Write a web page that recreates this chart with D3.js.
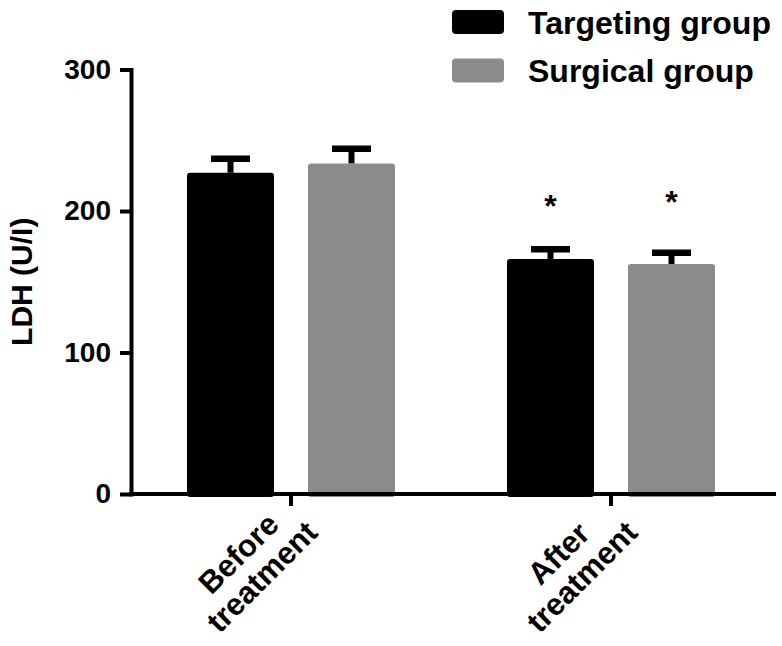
<!DOCTYPE html>
<html>
<head>
<meta charset="utf-8">
<script src="https://cdn.jsdelivr.net/npm/d3@7"></script>
<style>
  html, body { margin: 0; padding: 0; background: #ffffff; }
  svg { display: block; }
  text { font-family: "Liberation Sans", Arial, Helvetica, sans-serif; font-weight: bold; fill: #000; }
</style>
</head>
<body>
<div id="chart"></div>
<script>
// ---- data ----
const categories = ["Before\ntreatment", "After\ntreatment"];
const seriesNames = ["Targeting group", "Surgical group"];
const seriesColors = ["#000000", "#8b8b8b"];
const targetingMeans = [227, 166];
const targetingErrors = [10, 7];
const surgicalMeans = [233.5, 162.5];
const surgicalErrors = [10.5, 8];
const significance = [["", ""], ["*", "*"]];
const significanceLevel = [[0, 0], [209, 212]];
const yTicks = [0, 100, 200, 300];
const yLabel = "LDH (U/I)";

// ---- layout ----
const W = 782, H = 646;
const svg = d3.select("#chart").append("svg").attr("width", W).attr("height", H);
svg.append("rect").attr("width", W).attr("height", H).attr("fill", "#fff");

const y = d3.scaleLinear().domain([0, 300]).range([494, 69.5]);
const x = d3.scaleBand().domain(categories).range([131, 776])
  .paddingInner(0).paddingOuter(5 / 640).align(0);
const xs = d3.scaleBand().domain(seriesNames).range([-104, 104]).paddingInner(0.281).paddingOuter(0);

const means = [targetingMeans, surgicalMeans];
const errs = [targetingErrors, surgicalErrors];
const rows = [];
categories.forEach((c, ci) => {
  seriesNames.forEach((s, si) => {
    rows.push({ c, s, ci, si, mean: means[si][ci], err: errs[si][ci],
      sig: significance[ci][si], sigLevel: significanceLevel[ci][si] });
  });
});
const cx = d => x(d.c) + x.bandwidth() / 2 + xs(d.s) + xs.bandwidth() / 2;

// error bars
const eb = svg.append("g");
eb.selectAll("line.stem").data(rows).join("line")
  .attr("x1", cx).attr("x2", cx)
  .attr("y1", d => y(d.mean)).attr("y2", d => y(d.mean + d.err))
  .attr("stroke", "#000").attr("stroke-width", 6);
eb.selectAll("line.cap").data(rows).join("line")
  .attr("x1", d => cx(d) - 19.5).attr("x2", d => cx(d) + 19.5)
  .attr("y1", d => y(d.mean + d.err)).attr("y2", d => y(d.mean + d.err))
  .attr("stroke", "#000").attr("stroke-width", 6.5);

// bars
svg.append("g").selectAll("rect").data(rows).join("rect")
  .attr("x", d => cx(d) - xs.bandwidth() / 2)
  .attr("width", xs.bandwidth())
  .attr("y", d => y(d.mean))
  .attr("height", d => y(0) - y(d.mean) + 3)
  .attr("rx", 3)
  .attr("fill", d => seriesColors[d.si]);

// significance stars
svg.append("g").selectAll("text").data(rows.filter(d => d.sig)).join("text")
  .attr("x", cx).attr("y", d => y(d.sigLevel) + 19)
  .attr("text-anchor", "middle")
  .style("font-size", "32px")
  .text(d => d.sig);

// y axis
const yAxis = svg.append("g").attr("transform", "translate(131,0)")
  .call(d3.axisLeft(y).tickValues(yTicks).tickSize(11).tickSizeOuter(0).tickPadding(9));
yAxis.select(".domain").attr("stroke-width", 4).attr("stroke-linecap", "square");
yAxis.selectAll(".tick line").attr("stroke-width", 4);
yAxis.selectAll(".tick text").style("font-size", "28px")
  .style("font-family", "'Liberation Sans', Arial, sans-serif").style("font-weight", "bold");

// x axis
const xAxis = svg.append("g").attr("transform", "translate(0,494)")
  .call(d3.axisBottom(x).tickSize(12).tickSizeOuter(0).tickFormat(""));
xAxis.select(".domain").attr("stroke-width", 4).attr("d", "M129,0H776");
xAxis.selectAll(".tick line").attr("stroke-width", 4);

// category labels (rotated -45, two lines, centered)
const labs = svg.append("g").selectAll("text").data(categories).join("text")
  .attr("transform", c => `translate(${x(c) + x.bandwidth() / 2 - 45},561) rotate(-45)`)
  .attr("text-anchor", "middle")
  .style("font-size", "31px");
labs.each(function (c) {
  const t = d3.select(this);
  c.split("\n").forEach((line, i) => {
    t.append("tspan").attr("x", 0).attr("y", i * 33).text(line);
  });
});

// y label
svg.append("text")
  .attr("transform", `translate(32,${(y(0) + y(300)) / 2}) rotate(-90)`)
  .attr("text-anchor", "middle")
  .style("font-size", "30px")
  .text(yLabel);

// legend
const leg = svg.append("g").selectAll("g").data(seriesNames).join("g")
  .attr("transform", (d, i) => `translate(452,${10 + i * 48.5})`);
leg.append("rect").attr("width", 52).attr("height", 24).attr("rx", 4)
  .attr("fill", (d, i) => seriesColors[i]);
leg.append("text").attr("x", 76).attr("y", 23.5)
  .style("font-size", "32px").text(d => d);
</script>
</body>
</html>
